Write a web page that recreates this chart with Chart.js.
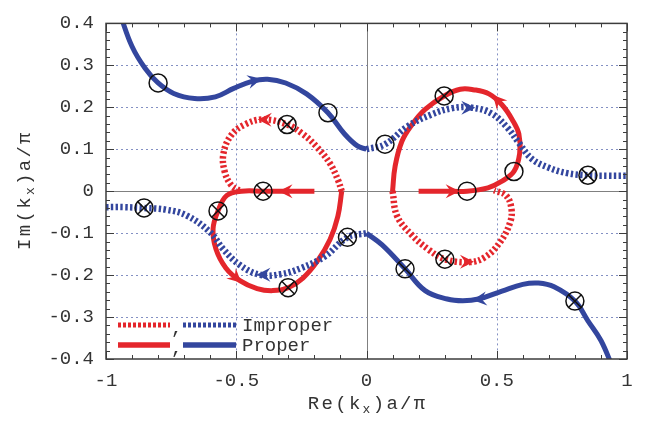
<!DOCTYPE html>
<html><head><meta charset="utf-8">
<script src="https://cdn.jsdelivr.net/npm/chart.js@4.4.1/dist/chart.umd.min.js"></script>
<style>html,body{margin:0;padding:0;background:#fff}#wrap{width:645px;height:421px}</style>
</head><body><div id="wrap"><canvas id="c" width="645" height="421"></canvas></div>
<script>
// ---- tick labels / axes ----
const xTicks = [-1, -0.5, 0, 0.5, 1];
const xTickLabels = ['-1', '-0.5', '0', '0.5', '1'];
const yTicks = [-0.4, -0.3, -0.2, -0.1, 0, 0.1, 0.2, 0.3, 0.4];
const yTickLabels = ['-0.4', '-0.3', '-0.2', '-0.1', '0', '0.1', '0.2', '0.3', '0.4'];
const xTitleParts = ['Re(k', 'x', ')a/π'];
const yTitleParts = ['Im(k', 'x', ')a/π'];
const legendLabels = ['Improper', 'Proper'];

// ---- curves [Re, Im] ----
const blueProperUpper = [[-0.945,0.42],[-0.90,0.345],[-0.85,0.293],[-0.80,0.258],[-0.74,0.233],[-0.66,0.221],[-0.58,0.225],[-0.51,0.245],[-0.44,0.262],[-0.38,0.267],[-0.31,0.258],[-0.23,0.232],[-0.148,0.187],[-0.085,0.137],[-0.035,0.108],[0,0.10]];
const blueProperLower = [[0,-0.10],[0.06,-0.128],[0.148,-0.185],[0.225,-0.237],[0.31,-0.257],[0.37,-0.261],[0.43,-0.257],[0.52,-0.238],[0.60,-0.222],[0.66,-0.219],[0.72,-0.228],[0.80,-0.262],[0.85,-0.309],[0.90,-0.356],[0.945,-0.42]];
const blueImproperUpper = [[0,0.10],[0.071,0.112],[0.159,0.155],[0.25,0.183],[0.33,0.198],[0.405,0.199],[0.48,0.185],[0.543,0.150],[0.585,0.115],[0.635,0.077],[0.70,0.056],[0.77,0.043],[0.85,0.038],[0.93,0.037],[1.0,0.037]];
const blueImproperLower = [[-1.0,-0.038],[-0.93,-0.038],[-0.854,-0.040],[-0.77,-0.044],[-0.69,-0.058],[-0.60,-0.098],[-0.55,-0.138],[-0.486,-0.176],[-0.41,-0.199],[-0.33,-0.198],[-0.25,-0.183],[-0.159,-0.155],[-0.073,-0.110],[0,-0.10]];
const redProperRight = [[0.20,0],[0.30,0],[0.386,0],[0.466,0.008],[0.515,0.022],[0.566,0.047],[0.588,0.09],[0.585,0.136],[0.56,0.170],[0.52,0.206],[0.47,0.232],[0.41,0.242],[0.36,0.243],[0.298,0.227],[0.225,0.195],[0.175,0.159],[0.136,0.119],[0.11,0.06],[0.10,0]];
const redImproperRight = [[0.10,0],[0.118,-0.06],[0.175,-0.105],[0.236,-0.138],[0.301,-0.162],[0.397,-0.169],[0.455,-0.157],[0.512,-0.122],[0.551,-0.075],[0.556,-0.04],[0.535,-0.01],[0.49,0.002]];
const redProperLeft = [[-0.20,0],[-0.30,0],[-0.397,0],[-0.48,0],[-0.536,-0.01],[-0.570,-0.047],[-0.589,-0.09],[-0.578,-0.138],[-0.54,-0.183],[-0.486,-0.213],[-0.42,-0.232],[-0.36,-0.237],[-0.301,-0.230],[-0.244,-0.207],[-0.19,-0.168],[-0.14,-0.115],[-0.11,-0.06],[-0.095,0]];
const redImproperLeft = [[-0.095,0],[-0.109,0.026],[-0.14,0.066],[-0.19,0.105],[-0.244,0.136],[-0.305,0.159],[-0.397,0.171],[-0.47,0.158],[-0.52,0.133],[-0.549,0.09],[-0.545,0.048],[-0.52,0.015],[-0.49,0.002]];

// ---- markers ----
const openCircles = [[-0.80,0.258],[-0.148,0.187],[0.071,0.112],[0.386,0],[0.566,0.047]];
const crossCircles = [[0.298,0.227],[0.85,0.038],[-0.305,0.159],[-0.397,0],[-0.854,-0.040],[-0.570,-0.047],[-0.073,-0.110],[0.148,-0.185],[0.301,-0.162],[-0.301,-0.230],[0.80,-0.262]];

// ---- arrows: [from, tip] ----
const blueArrows = [[[-0.47,0.258],[-0.41,0.267]], [[0.47,-0.255],[0.415,-0.259]], [[0.35,0.199],[0.41,0.199]], [[-0.35,-0.199],[-0.415,-0.199]]];
const redArrows = [[[0.29,0],[0.35,0]], [[-0.27,0],[-0.33,0]], [[0.535,0.195],[0.49,0.226]], [[-0.53,-0.19],[-0.486,-0.215]], [[0.35,-0.168],[0.405,-0.168]], [[-0.35,0.170],[-0.41,0.171]]];

const RED = '#e4262c', BLUE = '#33469e';
const FONT = 'Liberation Mono, DejaVu Sans Mono, monospace';
const toXY = a => a.map(p => ({x: p[0], y: p[1]}));

function curve(label, arr, color, dotted) {
  return {
    label, data: toXY(arr), showLine: true, borderColor: color, backgroundColor: color,
    borderWidth: dotted ? 6.5 : 5, borderDash: dotted ? [2.4, 2.4] : [], borderCapStyle: 'butt',
    tension: 0.4, pointRadius: 0, order: 2, clip: 0
  };
}

const framePlugin = {
  id: 'frame',
  beforeDatasetsDraw(chart) {
    const {ctx, chartArea: a, scales: {x, y}} = chart;
    ctx.save();
    ctx.lineWidth = 1;
    ctx.strokeStyle = 'rgba(110,125,185,0.85)';
    ctx.setLineDash([2, 3]);
    ctx.beginPath();
    xTicks.forEach(v => { if (v !== 0 && Math.abs(v) !== 1) { const p = Math.round(x.getPixelForValue(v)) + 0.5; ctx.moveTo(p, a.top); ctx.lineTo(p, a.bottom); } });
    yTicks.forEach(v => { if (v !== 0 && Math.abs(v) !== 0.4) { const p = Math.round(y.getPixelForValue(v)) + 0.5; ctx.moveTo(a.left, p); ctx.lineTo(a.right, p); } });
    ctx.stroke();
    ctx.setLineDash([]);
    ctx.strokeStyle = '#808080';
    ctx.beginPath();
    const x0 = Math.round(x.getPixelForValue(0)) + 0.5, y0 = Math.round(y.getPixelForValue(0)) + 0.5;
    ctx.moveTo(x0, a.top); ctx.lineTo(x0, a.bottom);
    ctx.moveTo(a.left, y0); ctx.lineTo(a.right, y0);
    ctx.stroke();
    ctx.restore();
  },
  afterDatasetsDraw(chart) {
    const {ctx, chartArea: a, scales: {x, y}} = chart;
    ctx.save();
    // arrows
    const arrow = (pair, color) => {
      const x0 = x.getPixelForValue(pair[0][0]), y0 = y.getPixelForValue(pair[0][1]);
      const x1 = x.getPixelForValue(pair[1][0]), y1 = y.getPixelForValue(pair[1][1]);
      const ang = Math.atan2(y1 - y0, x1 - x0);
      ctx.save(); ctx.translate(x1, y1); ctx.rotate(ang);
      ctx.fillStyle = color;
      ctx.beginPath(); ctx.moveTo(2, 0); ctx.lineTo(-12, -7); ctx.lineTo(-7, 0); ctx.lineTo(-12, 7); ctx.closePath(); ctx.fill();
      ctx.restore();
    };
    blueArrows.forEach(p => arrow(p, BLUE));
    redArrows.forEach(p => arrow(p, RED));
    // frame
    ctx.strokeStyle = '#3c3c3c';
    ctx.lineWidth = 1.5;
    ctx.strokeRect(a.left, a.top, a.right - a.left, a.bottom - a.top);
    // ticks
    ctx.lineWidth = 1;
    ctx.beginPath();
    for (let i = -10; i <= 10; i++) {
      const v = i / 10, p = Math.round(x.getPixelForValue(v)) + 0.5, L = (i % 5 === 0) ? 8 : 4;
      ctx.moveTo(p, a.bottom); ctx.lineTo(p, a.bottom - L);
      ctx.moveTo(p, a.top); ctx.lineTo(p, a.top + L);
    }
    for (let i = -20; i <= 20; i++) {
      const v = i / 50, p = Math.round(y.getPixelForValue(v)) + 0.5, L = (i % 5 === 0) ? 8 : 4;
      ctx.moveTo(a.left, p); ctx.lineTo(a.left + L, p);
      ctx.moveTo(a.right, p); ctx.lineTo(a.right - L, p);
    }
    ctx.stroke();
    // legend
    const r1 = a.bottom - 34, r2 = a.bottom - 14;
    const seg = (x1, x2, yy, color, dotted) => {
      ctx.save(); ctx.strokeStyle = color; ctx.lineWidth = dotted ? 5 : 5.5; ctx.lineCap = 'butt';
      ctx.setLineDash(dotted ? [3, 2] : []);
      ctx.beginPath(); ctx.moveTo(x1, yy); ctx.lineTo(x2, yy); ctx.stroke(); ctx.restore();
    };
    seg(a.left + 12, a.left + 64, r1, RED, true);
    seg(a.left + 77, a.left + 130, r1, BLUE, true);
    seg(a.left + 12, a.left + 64, r2, RED, false);
    seg(a.left + 77, a.left + 130, r2, BLUE, false);
    ctx.fillStyle = '#333';
    ctx.font = '19px ' + FONT;
    ctx.textBaseline = 'middle';
    ctx.textAlign = 'left';
    ctx.fillText(legendLabels[0], a.left + 136, r1 + 1);
    ctx.fillText(legendLabels[1], a.left + 136, r2 + 1);
    ctx.fillText(',', a.left + 65, r1 + 4);
    ctx.fillText(',', a.left + 65, r2 + 4);
    // axis titles
    const drawTitle = (parts, cx, cy, rot) => {
      const big = '19px ' + FONT, small = '13px ' + FONT, sp = 2.3;
      const items = [];
      parts.forEach((t, k) => { for (const ch of t) items.push({ch, sub: k === 1}); });
      let total = 0;
      items.forEach(it => { ctx.font = it.sub ? small : big; it.w = ctx.measureText(it.ch).width + sp; total += it.w; });
      total -= sp;
      ctx.save(); ctx.translate(cx, cy); ctx.rotate(rot);
      ctx.textBaseline = 'alphabetic'; ctx.textAlign = 'left'; ctx.fillStyle = '#333';
      let px = -total / 2;
      items.forEach(it => { ctx.font = it.sub ? small : big; ctx.fillText(it.ch, px, it.sub ? 10 : 6); px += it.w; });
      ctx.restore();
    };
    drawTitle(xTitleParts, (a.left + a.right) / 2, 403, 0);
    drawTitle(yTitleParts, 24, (a.top + a.bottom) / 2, -Math.PI / 2);
    ctx.restore();
  }
};

new Chart(document.getElementById('c'), {
  type: 'scatter',
  data: {
    datasets: [
      {label: 'open', data: toXY(openCircles), pointStyle: 'circle', pointRadius: 9, pointBorderWidth: 1.5, pointBorderColor: '#111', pointBackgroundColor: 'rgba(0,0,0,0)', showLine: false, order: 0},
      {label: 'crossed', data: toXY(crossCircles), pointStyle: 'circle', pointRadius: 9, pointBorderWidth: 1.5, pointBorderColor: '#111', pointBackgroundColor: 'rgba(0,0,0,0)', showLine: false, order: 0},
      {label: 'crossedX', data: toXY(crossCircles), pointStyle: 'crossRot', pointRadius: 9, pointBorderWidth: 1.5, pointBorderColor: '#111', showLine: false, order: 0},
      Object.assign(curve('Proper (blue, upper)', blueProperUpper, BLUE, false), {order: 1}),
      Object.assign(curve('Proper (blue, lower)', blueProperLower, BLUE, false), {order: 1}),
      Object.assign(curve('Improper (blue, upper)', blueImproperUpper, BLUE, true), {order: 1}),
      Object.assign(curve('Improper (blue, lower)', blueImproperLower, BLUE, true), {order: 1}),
      curve('Proper (red, right)', redProperRight, RED, false),
      curve('Improper (red, right)', redImproperRight, RED, true),
      curve('Proper (red, left)', redProperLeft, RED, false),
      curve('Improper (red, left)', redImproperLeft, RED, true)
    ]
  },
  options: {
    responsive: false, animation: false, devicePixelRatio: 1, events: [],
    layout: {padding: {left: 0, right: 18, top: 17, bottom: 0}},
    plugins: {legend: {display: false}, tooltip: {enabled: false}},
    scales: {
      x: {
        type: 'linear', min: -1, max: 1,
        grid: {display: false, drawTicks: false}, border: {display: false},
        afterBuildTicks: s => { s.ticks = xTicks.map(v => ({value: v})); },
        afterFit: s => { s.height = 62; },
        ticks: {callback: (v, i) => xTickLabels[i], font: {family: FONT, size: 19}, color: '#333', padding: 11, maxRotation: 0, autoSkip: false}
      },
      y: {
        type: 'linear', min: -0.4, max: 0.4,
        grid: {display: false, drawTicks: false}, border: {display: false},
        afterBuildTicks: s => { s.ticks = yTicks.map(v => ({value: v})); },
        afterFit: s => { s.width = 106; },
        ticks: {callback: (v, i) => yTickLabels[i], font: {family: FONT, size: 19}, color: '#333', padding: 12, autoSkip: false}
      }
    }
  },
  plugins: [framePlugin]
});
</script></body></html>
